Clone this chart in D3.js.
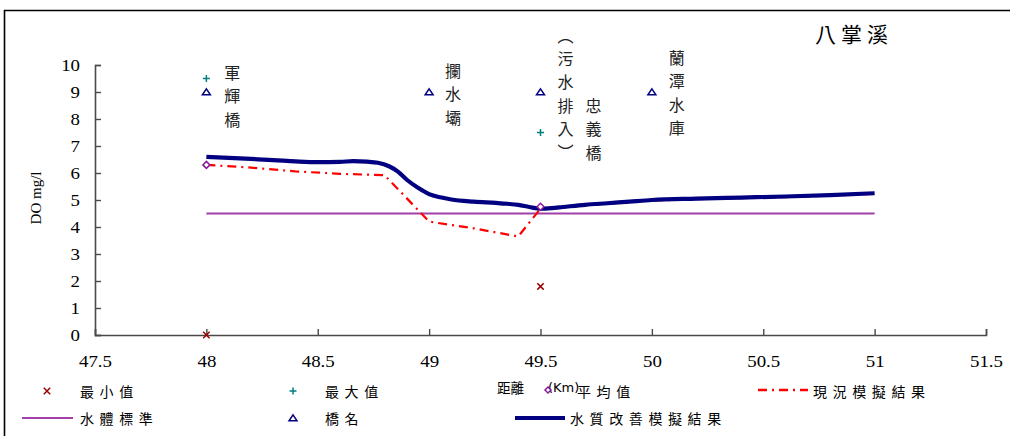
<!DOCTYPE html>
<html><head><meta charset="utf-8">
<script src="https://cdn.jsdelivr.net/npm/d3@7"></script>
<style>body{margin:0;background:#fff}svg{display:block}</style>
</head><body><svg id="c" width="1010" height="436"></svg>
<script>
// ---------------- data ----------------
const chartTitle = "八掌溪";
const xTitle = ["距離", "(Km)"];
const yTitle = "DO mg/l";
const xTicks = [47.5, 48, 48.5, 49, 49.5, 50, 50.5, 51, 51.5];
const yTicks = [0, 1, 2, 3, 4, 5, 6, 7, 8, 9, 10];

const minX = [48, 49.5],  minY = [0, 1.8];
const maxX = [48, 49.5],  maxY = [9.5, 7.5];
const meanX = [48, 49.5], meanY = [6.3, 4.75];
const bridgeX = [48, 49, 49.5, 50], bridgeY = [9, 9, 9, 9];
const standardX = [48, 51], standardY = [4.5, 4.5];

const currentX = [48, 48.2, 48.4, 48.6, 48.8, 49.0, 49.2, 49.4, 49.5, 49.55, 49.6, 49.7, 49.8, 49.9, 50.0, 50.2, 50.4, 50.6, 50.8, 51.0];
const currentY = [6.3, 6.2, 6.06, 5.97, 5.92, 4.2, 3.95, 3.65, 4.68, 4.69, 4.72, 4.8, 4.86, 4.92, 4.98, 5.03, 5.07, 5.11, 5.16, 5.23];

const improvedX = [48, 48.1, 48.2, 48.3, 48.4, 48.5, 48.6, 48.66, 48.72, 48.77, 48.82, 48.86, 48.9, 48.95, 49.0, 49.05, 49.1, 49.2, 49.3, 49.35, 49.4, 49.45, 49.5, 49.55, 49.6, 49.7, 49.8, 49.9, 50.0, 50.2, 50.4, 50.6, 50.8, 51.0];
const improvedY = [6.6, 6.56, 6.52, 6.48, 6.43, 6.4, 6.41, 6.44, 6.42, 6.38, 6.25, 6.05, 5.75, 5.45, 5.22, 5.1, 5.02, 4.94, 4.89, 4.86, 4.82, 4.74, 4.68, 4.7, 4.74, 4.82, 4.88, 4.94, 5.0, 5.05, 5.09, 5.13, 5.18, 5.25];

const labelTexts = ["軍輝橋", "攔水壩", "︵污水排入︶", "忠義橋", "蘭潭水庫"];
const labelX = [48, 49, 49.5, 49.5, 50];
const labelTopY = [9.74, 9.81, 11.12, 8.52, 10.3];

const legendNames = ["最小值", "最大值", "平均值", "現況模擬結果", "水體標準", "橋名", "水質改善模擬結果"];

// ---------------- layout ----------------
const svg = d3.select("#c");
const x = d3.scaleLinear().domain([47.5, 51.5]).range([95, 986]);
const y = d3.scaleLinear().domain([0, 10]).range([335, 65]);
const CJK = "'Noto Sans CJK TC','Noto Sans CJK SC',sans-serif";
const SERIF = "'Times New Roman','Liberation Serif','DejaVu Serif',serif";
const C = {navy:"#000080", red:"#ff0000", purple:"#a040a8", teal:"#008080", dred:"#9a0000", diamond:"#8a1a9a", axis:"#4a4a4a"};

// frame
svg.append("line").attr("x1",4).attr("x2",1010).attr("y1",10.5).attr("y2",10.5).attr("stroke","#000").attr("stroke-width",1.6);
svg.append("line").attr("x1",4.5).attr("x2",4.5).attr("y1",10).attr("y2",436).attr("stroke","#000").attr("stroke-width",1.6);

// title
svg.append("text").attr("x",815).attr("y",33).attr("dominant-baseline","central")
  .style("font-family",CJK).attr("font-size",21).attr("letter-spacing",5).attr("fill","#000").text(chartTitle);

// axes
const gx = svg.append("g").attr("transform","translate(0,335)")
  .call(d3.axisBottom(x).tickValues(xTicks).tickSize(-6).tickPadding(21).tickFormat(d3.format("")));
const gy = svg.append("g").attr("transform","translate(95,0)")
  .call(d3.axisLeft(y).tickValues(yTicks).tickSize(-6).tickPadding(12.7).tickFormat(d3.format("")));
[gx, gy].forEach(g => {
  g.attr("font-family", null);
  g.select(".domain").attr("stroke",C.axis).attr("stroke-width",1.6);
  g.selectAll(".tick line").attr("stroke",C.axis).attr("stroke-width",1.4);
  g.selectAll(".tick text").style("font-family",SERIF).attr("font-size",16).attr("fill","#000")
    .attr("transform","scale(1.18,1)");
});

// y title
svg.append("text").attr("transform","translate(41,198) rotate(-90)").attr("text-anchor","middle")
  .style("font-family",SERIF).attr("font-size",15).attr("fill","#000").text(yTitle);

// x title
const xt = svg.append("text").attr("x",497).attr("y",387).attr("dominant-baseline","central")
  .style("font-family",CJK).attr("font-size",13.5).attr("fill","#000");
xt.append("tspan").text(xTitle[0]);
xt.append("tspan").attr("dx",24).style("font-family","'DejaVu Sans',sans-serif").attr("font-size",13).text(xTitle[1]);

// standard line
const line = d3.line().x(d => x(d[0])).y(d => y(d[1]));
svg.append("path").datum(d3.zip(standardX, standardY)).attr("d", line)
  .attr("fill","none").attr("stroke",C.purple).attr("stroke-width",2);

// current simulation
svg.append("path").datum(d3.zip(currentX, currentY)).attr("d", line)
  .attr("fill","none").attr("stroke",C.red).attr("stroke-width",2.2).attr("stroke-dasharray","9,5,2,5");

// improved simulation
const smooth = d3.line().x(d => x(d[0])).y(d => y(d[1])).curve(d3.curveMonotoneX);
svg.append("path").datum(d3.zip(improvedX, improvedY)).attr("d", smooth)
  .attr("fill","none").attr("stroke",C.navy).attr("stroke-width",4.2).attr("stroke-linejoin","round");

// markers
function cross(g, cx, cy, s, col){ g.append("path").attr("d",`M${cx-s},${cy-s}L${cx+s},${cy+s}M${cx-s},${cy+s}L${cx+s},${cy-s}`).attr("stroke",col).attr("stroke-width",1.5).attr("fill","none"); }
function plus(g, cx, cy, s, col){ g.append("path").attr("d",`M${cx-s},${cy}L${cx+s},${cy}M${cx},${cy-s}L${cx},${cy+s}`).attr("stroke",col).attr("stroke-width",1.5).attr("fill","none"); }
function tri(g, cx, cy, s, col){ g.append("path").attr("d",`M${cx},${cy-s*0.8}L${cx+s},${cy+s*0.7}L${cx-s},${cy+s*0.7}Z`).attr("stroke",col).attr("stroke-width",1.5).attr("fill","#fff"); }
function diam(g, cx, cy, s, col){ g.append("path").attr("d",`M${cx},${cy-s}L${cx+s},${cy}L${cx},${cy+s}L${cx-s},${cy}Z`).attr("stroke",col).attr("stroke-width",1.5).attr("fill","#fff"); }

const mk = svg.append("g");
bridgeX.forEach((v,i) => tri(mk, x(v), y(bridgeY[i]), 4, C.navy));
maxX.forEach((v,i) => plus(mk, x(v), y(maxY[i]), 3.5, C.teal));
minX.forEach((v,i) => cross(mk, x(v), y(minY[i]), 3.2, C.dred));
meanX.forEach((v,i) => diam(mk, x(v), y(meanY[i]), 3.5, C.diamond));

// bridge labels (vertical, one glyph per row)
const labelDX = [26, 24, 25, 53, 25];
const pitch = 23.3;
labelTexts.forEach((t,i) => {
  Array.from(t).forEach((ch,j) => {
    svg.append("text").style("font-family",CJK).attr("font-size",16).attr("fill","#222")
      .attr("text-anchor","middle").attr("dominant-baseline","central")
      .attr("x", x(labelX[i]) + labelDX[i]).attr("y", y(labelTopY[i]) + j*pitch).text(ch);
  });
});

// legend
const lg = svg.append("g");
const legText = (tx, ty, s) => lg.append("text").attr("x",tx).attr("y",ty).attr("dominant-baseline","central")
  .style("font-family",CJK).attr("font-size",14).attr("letter-spacing",5.6).attr("fill","#000").text(s);
const r1 = 391, r2 = 418;
cross(lg, 47, r1, 3.2, C.dred); legText(80, r1, legendNames[0]);
plus(lg, 293, r1, 3.5, C.teal); legText(325, r1, legendNames[1]);
diam(lg, 548, r1-1, 3, C.diamond); legText(577, r1, legendNames[2]);
lg.append("line").attr("x1",758).attr("x2",808).attr("y1",r1-1).attr("y2",r1-1).attr("stroke",C.red).attr("stroke-width",2.4).attr("stroke-dasharray","9,5,2,5");
legText(813, r1, legendNames[3]);
lg.append("line").attr("x1",22).attr("x2",73).attr("y1",r2).attr("y2",r2).attr("stroke",C.purple).attr("stroke-width",2);
legText(80, r2, legendNames[4]);
tri(lg, 293, r2, 4, C.navy); legText(325, r2, legendNames[5]);
lg.append("line").attr("x1",515).attr("x2",565).attr("y1",r2).attr("y2",r2).attr("stroke",C.navy).attr("stroke-width",4.2);
legText(570, r2, legendNames[6]);
</script></body></html>
